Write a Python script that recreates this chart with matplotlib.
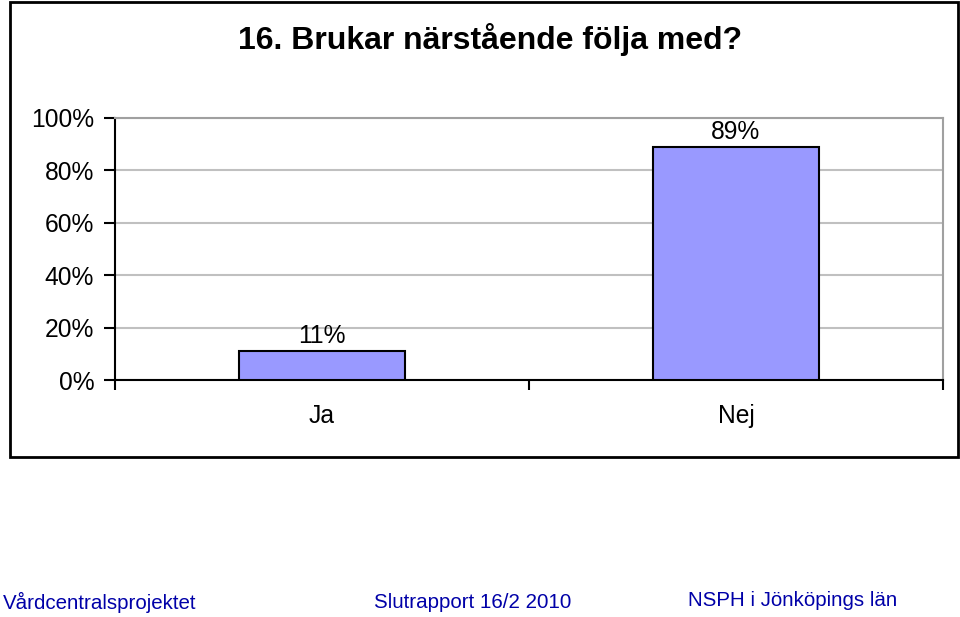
import matplotlib.pyplot as plt
from matplotlib.patches import Rectangle

# Data
categories = ['Ja', 'Nej']
values = [11, 89]
yticks = [0, 20, 40, 60, 80, 100]
title = '16. Brukar närstående följa med?'
footer = ['Vårdcentralsprojektet', 'Slutrapport 16/2 2010', 'NSPH i Jönköpings län']

plt.rcParams['font.family'] = ['Liberation Sans', 'DejaVu Sans']

fig = plt.figure(figsize=(9.6, 6.17), dpi=100)
ax = fig.add_axes([115 / 960, 1 - 380 / 617, 828 / 960, 262 / 617])

x = list(range(len(categories)))
bars = ax.bar(x, values, width=0.4, color='#9999FF', edgecolor='black', linewidth=1.5, zorder=3)
ax.bar_label(bars, labels=[f'{v}%' for v in values], padding=2, fontsize=17.7)

ax.set_xlim(-0.5, len(categories) - 0.5)
ax.set_ylim(0, 100)
ax.set_yticks(yticks)
ax.set_yticklabels([f'{t}%' for t in yticks], fontsize=17.7)
ax.grid(axis='y', color='#c0c0c0', linewidth=1.5, zorder=0)

# category boundaries as major ticks, names on minor ticks
ax.set_xticks([i - 0.5 for i in range(len(categories) + 1)])
ax.set_xticklabels([])
ax.set_xticks(x, minor=True)
ax.set_xticklabels(categories, minor=True, fontsize=17.7)
ax.tick_params(axis='x', which='major', length=7, width=1.5, direction='out')
ax.tick_params(axis='x', which='minor', length=0, pad=17)
ax.tick_params(axis='y', length=8, width=1.5, direction='out', pad=7)

for s in ['left', 'bottom']:
    ax.spines[s].set_linewidth(1.5)
for s in ['top', 'right']:
    ax.spines[s].set_color('#a0a0a0')
    ax.spines[s].set_linewidth(1.5)

# outer frame
fig.patches.append(Rectangle((10 / 960, 1 - 457 / 617), 948 / 960, 455 / 617,
                             transform=fig.transFigure, fill=False,
                             edgecolor='black', linewidth=2))

fig.text(490 / 960, 1 - 40 / 617, title, ha='center', va='center',
         fontsize=23, fontweight='bold')

fig.text(3 / 960, 1 - 602 / 617, footer[0], ha='left', va='center', fontsize=14.8, color='#0000a8')
fig.text(473 / 960, 1 - 602 / 617, footer[1], ha='center', va='center', fontsize=14.8, color='#0000a8')
fig.text(793 / 960, 1 - 601 / 617, footer[2], ha='center', va='center', fontsize=14.8, color='#0000a8')

fig.savefig('out.png', dpi=100)
